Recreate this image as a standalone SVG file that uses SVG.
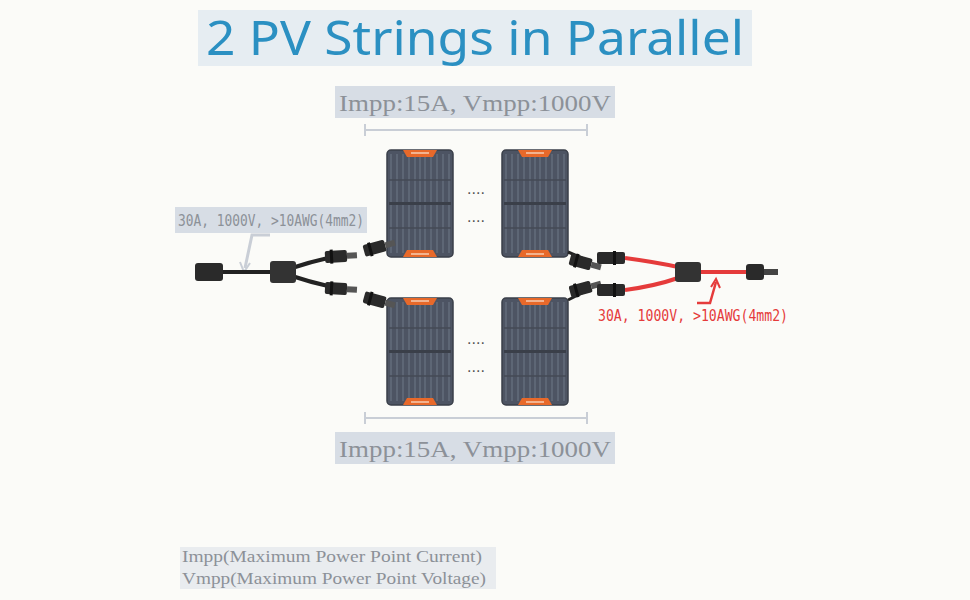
<svg xmlns="http://www.w3.org/2000/svg" width="970" height="600" viewBox="0 0 970 600">
<style>
.lbl{font-family:"Liberation Serif",serif;font-size:24px;fill:#8c9198}
.leg{font-family:"Liberation Serif",serif;font-size:16px;fill:#8c9198}
.lblbg{fill:#d7dde5}
.mono{font-family:"DejaVu Sans Mono",monospace;font-size:16px}
.pv{fill:#4d5463;stroke:#3a3f49;stroke-width:1.5}
.tab{fill:#e8692a}
.cell{stroke:#6f7888;stroke-width:1}
.blk{fill:#2a2a2a}
.dots{font-family:"Liberation Sans",sans-serif;font-size:16px;fill:#555}
</style>
<defs>
<g id="panel">
<rect class="pv" x="0" y="0" width="66" height="107" rx="4"/>
<path class="cell" d="M4 4V103M10 4V103M16 4V103M22 4V103M28 4V103M33 4V103M38 4V103M44 4V103M50 4V103M56 4V103M62 4V103"/>
<path d="M2 53.5H64" stroke="#3a3f49" stroke-width="3"/>
<path d="M2 30H64M2 78H64" stroke="#444a56" stroke-width="1.5"/>
<path class="tab" d="M16 0H50L46 7H20Z"/>
<path class="tab" d="M16 107H50L46 100H20Z"/>
<rect x="24" y="2" width="18" height="2" fill="#f3b38f"/>
<rect x="24" y="103" width="18" height="2" fill="#f3b38f"/>
</g>
<g id="mc4">
<rect class="blk" x="0" y="-6" width="22" height="12" rx="2"/>
<rect x="22" y="-3" width="10" height="6" fill="#555"/>
<rect x="5" y="-7" width="3" height="14" fill="#111"/>
</g>
</defs>
<rect width="970" height="600" fill="#fbfbf8"/>
<g id="title">
<rect x="198" y="10" width="554" height="56" fill="#e6edf2"/>
<text x="475" y="55" text-anchor="middle" font-family="'Noto Sans',sans-serif" font-size="48" fill="#2b90c2" textLength="538" lengthAdjust="spacingAndGlyphs">2 PV Strings in Parallel</text>
</g>
<g id="top-label">
<rect class="lblbg" x="335" y="86" width="280" height="32"/>
<text class="lbl" x="475" y="111" text-anchor="middle" textLength="272" lengthAdjust="spacingAndGlyphs">Impp:15A, Vmpp:1000V</text>
<path d="M365 130H587M365 124V136M587 124V136" stroke="#c9ced6" stroke-width="2" fill="none"/>
</g>
<g id="bottom-label">
<path d="M365 418H587M365 412V424M587 412V424" stroke="#c9ced6" stroke-width="2" fill="none"/>
<rect class="lblbg" x="335" y="432" width="280" height="32"/>
<text class="lbl" x="475" y="457" text-anchor="middle" textLength="272" lengthAdjust="spacingAndGlyphs">Impp:15A, Vmpp:1000V</text>
</g>
<g id="panels">
<use href="#panel" x="387" y="150"/>
<use href="#panel" x="502" y="150"/>
<use href="#panel" x="387" y="298"/>
<use href="#panel" x="502" y="298"/>
<text class="dots" x="476" y="194" text-anchor="middle">....</text>
<text class="dots" x="476" y="222" text-anchor="middle">....</text>
<text class="dots" x="476" y="344" text-anchor="middle">....</text>
<text class="dots" x="476" y="372" text-anchor="middle">....</text>
<g transform="translate(364,251) rotate(-15)"><use href="#mc4"/></g>
<g transform="translate(364,297) rotate(15)"><use href="#mc4"/></g>
<path d="M568 252L582 258M568 300L582 293" stroke="#222" stroke-width="3"/>
<g transform="translate(570,259) rotate(15)"><use href="#mc4"/></g>
<g transform="translate(570,292) rotate(-15)"><use href="#mc4"/></g>
</g>
<g id="left-cable">
<rect class="lblbg" x="175" y="207" width="192" height="26"/>
<text class="mono" x="178" y="226" fill="#8c9198" textLength="186" lengthAdjust="spacingAndGlyphs">30A, 1000V, &gt;10AWG(4mm2)</text>
<path d="M270 235H252L245 268" stroke="#c9ced6" stroke-width="3" fill="none"/>
<path d="M240 262L244 272L250 263" stroke="#c9ced6" stroke-width="2" fill="none"/>
<path d="M220 272H272M292 268Q310 262 328 258M292 276Q310 282 328 286" stroke="#222" stroke-width="4" fill="none"/>
<rect class="blk" x="195" y="263" width="28" height="18" rx="3"/>
<rect x="270" y="261" width="26" height="22" rx="3" fill="#333"/>
<g transform="translate(325,257) rotate(-3)"><use href="#mc4"/></g>
<g transform="translate(325,288) rotate(3)"><use href="#mc4"/></g>
</g>
<g id="right-cable">
<path d="M625 258Q655 262 678 267M625 290Q655 286 678 278M700 272H752" stroke="#e53b3b" stroke-width="4" fill="none"/>
<g transform="translate(597,258)"><rect class="blk" x="0" y="-6" width="28" height="12" rx="2"/><rect x="16" y="-7" width="3" height="14" fill="#111"/></g>
<g transform="translate(597,290)"><rect class="blk" x="0" y="-6" width="28" height="12" rx="2"/><rect x="16" y="-7" width="3" height="14" fill="#111"/></g>
<rect x="675" y="262" width="26" height="20" rx="3" fill="#333"/>
<rect class="blk" x="746" y="264" width="18" height="16" rx="3"/>
<rect x="764" y="269" width="14" height="6" fill="#444"/>
<path d="M697 303H710L716 282" stroke="#e53b3b" stroke-width="2.5" fill="none"/>
<path d="M711 287L716 279L720 288" stroke="#e53b3b" stroke-width="2" fill="none"/>
<text class="mono" x="598" y="321" fill="#e53b3b" textLength="190" lengthAdjust="spacingAndGlyphs">30A, 1000V, &gt;10AWG(4mm2)</text>
</g>
<g id="legend">
<rect class="lblbg" x="180" y="547" width="316" height="42" opacity="0.5"/>
<text class="leg" x="182" y="562" textLength="300" lengthAdjust="spacingAndGlyphs">Impp(Maximum Power Point Current)</text>
<text class="leg" x="182" y="584" textLength="304" lengthAdjust="spacingAndGlyphs">Vmpp(Maximum Power Point Voltage)</text>
</g>
</svg>
